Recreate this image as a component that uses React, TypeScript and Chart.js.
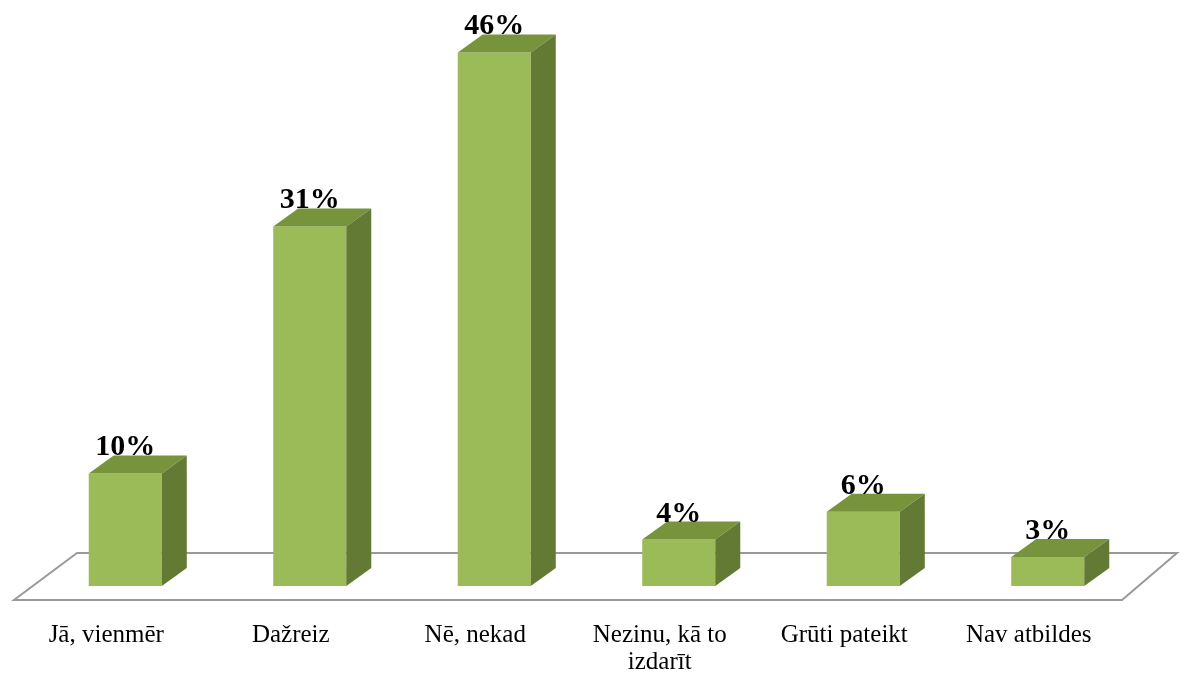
import React, { useEffect, useRef } from "react";
import { Chart, registerables } from "chart.js";

Chart.register(...registerables);

const categories: (string | string[])[] = [
  "Jā, vienmēr",
  "Dažreiz",
  "Nē, nekad",
  ["Nezinu, kā to", "izdarīt"],
  "Grūti pateikt",
  "Nav atbildes",
];
const values: number[] = [9.7, 31, 46, 4, 6.4, 2.5];
const valueLabels: string[] = ["10%", "31%", "46%", "4%", "6%", "3%"];

const FRONT = "#9BBB59";
const TOP = "#77933C";
const SIDE = "#637A34";
const DX = 25;
const DY = 18;

const floorPlugin = {
  id: "floor3d",
  beforeDatasetsDraw(chart: any) {
    const { ctx, chartArea, scales } = chart;
    const yb = scales.y.getPixelForValue(0);
    ctx.save();
    ctx.strokeStyle = "#9a9a9a";
    ctx.lineWidth = 2;
    ctx.beginPath();
    ctx.moveTo(chartArea.left + 44, yb - 33);
    ctx.lineTo(chartArea.right + 37, yb - 33);
    ctx.lineTo(chartArea.right - 18, yb + 14);
    ctx.lineTo(chartArea.left - 19, yb + 14);
    ctx.closePath();
    ctx.stroke();
    ctx.restore();
  },
  afterDatasetsDraw(chart: any) {
    const { ctx, scales } = chart;
    const meta = chart.getDatasetMeta(0);
    ctx.save();
    meta.data.forEach((bar: any, i: number) => {
      const { x, y, base, width } = bar.getProps(["x", "y", "base", "width"], true);
      const l = x - width / 2;
      const r = x + width / 2;
      // top face
      ctx.fillStyle = TOP;
      ctx.beginPath();
      ctx.moveTo(l, y);
      ctx.lineTo(l + DX, y - DY);
      ctx.lineTo(r + DX, y - DY);
      ctx.lineTo(r, y);
      ctx.closePath();
      ctx.fill();
      // side face
      ctx.fillStyle = SIDE;
      ctx.beginPath();
      ctx.moveTo(r, y);
      ctx.lineTo(r + DX, y - DY);
      ctx.lineTo(r + DX, base - DY);
      ctx.lineTo(r, base);
      ctx.closePath();
      ctx.fill();
      // value label
      ctx.fillStyle = "#000";
      ctx.font = 'bold 30px "Liberation Serif", "Times New Roman", serif';
      ctx.textAlign = "center";
      ctx.textBaseline = "alphabetic";
      ctx.fillText(valueLabels[i], x, y - DY);
    });
    // category labels
    const yb = scales.y.getPixelForValue(0);
    ctx.font = '25px "Liberation Serif", "Times New Roman", serif';
    ctx.textAlign = "center";
    ctx.textBaseline = "alphabetic";
    ctx.fillStyle = "#000";
    categories.forEach((c, i) => {
      const x = scales.x.getPixelForValue(i) - 19;
      const lines = Array.isArray(c) ? c : [c];
      lines.forEach((t, j) => {
        ctx.fillText(t, x, yb + 56 + j * 27);
      });
    });
    ctx.restore();
  },
};

export default function App() {
  const ref = useRef<HTMLCanvasElement>(null);
  useEffect(() => {
    if (!ref.current) return;
    const chart = new Chart(ref.current, {
      type: "bar",
      data: {
        labels: categories.map((c) => (Array.isArray(c) ? c.join(" ") : c)),
        datasets: [
          {
            data: values,
            backgroundColor: FRONT,
            borderWidth: 0,
            categoryPercentage: 1,
            barPercentage: 0.396,
          },
        ],
      },
      options: {
        animation: false,
        responsive: false,
        events: [],
        layout: { padding: { left: 33, right: 43, top: 6, bottom: 89 } },
        plugins: { legend: { display: false }, tooltip: { enabled: false } },
        scales: {
          x: { display: false },
          y: { display: false, min: 0, max: 50 },
        },
      },
      plugins: [floorPlugin],
    });
    return () => chart.destroy();
  }, []);
  return (
    <div style={{ position: "absolute", left: 0, top: 0, width: 1183, height: 675, background: "#fff" }}>
      <canvas ref={ref} width={1183} height={675} />
    </div>
  );
}
